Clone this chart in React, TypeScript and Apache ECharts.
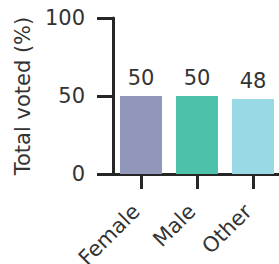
import React, { useEffect, useRef } from "react";
import * as echarts from "echarts";

const categories = ["Female", "Male", "Other"];
const values = [50, 50, 48];
const barColors = ["#9197bb", "#4cc2aa", "#99d9e6"];
const yTicks = [0, 50, 100];

export default function App() {
  const ref = useRef<HTMLDivElement>(null);
  useEffect(() => {
    if (!ref.current) return;
    const chart = echarts.init(ref.current, null, { renderer: "svg" });
    const font = "DejaVu Sans";
    const dark = "#262626";
    chart.setOption({
      animation: false,
      grid: {
        left: 113,
        top: 18,
        width: 168,
        height: 156,
        containLabel: false,
        outerBoundsMode: "none",
      },
      xAxis: {
        type: "category",
        data: categories,
        axisLine: { show: true, onZero: false, lineStyle: { color: dark, width: 3 } },
        axisTick: {
          show: true,
          interval: 0,
          alignWithLabel: true,
          length: 15,
          lineStyle: { color: dark, width: 3 },
        },
        axisLabel: {
          rotate: 45,
          interval: 0,
          margin: 29,
          padding: [0, 7, 0, 0],
          fontSize: 21,
          fontFamily: font,
          color: "#333333",
        },
      },
      yAxis: {
        type: "value",
        min: yTicks[0],
        max: yTicks[yTicks.length - 1],
        interval: 50,
        splitLine: { show: false },
        axisLine: { show: true, lineStyle: { color: dark, width: 3 } },
        axisTick: { show: true, length: 16, lineStyle: { color: dark, width: 3 } },
        axisLabel: { margin: 28, fontSize: 21, fontFamily: font, color: "#333333" },
        name: "Total voted (%)",
        nameLocation: "middle",
        nameGap: 80,
        nameTextStyle: { fontSize: 21, fontFamily: font, color: "#333333" },
      },
      series: [
        {
          type: "bar",
          data: values.map((v, i) => ({ value: v, itemStyle: { color: barColors[i] } })),
          barWidth: 42,
          label: {
            show: true,
            position: "top",
            distance: 8,
            fontSize: 21,
            fontFamily: font,
            color: "#333333",
          },
        },
      ],
    });
    return () => chart.dispose();
  }, []);
  return (
    <div
      ref={ref}
      style={{ position: "fixed", left: 0, top: 0, width: 279, height: 264, background: "#fff" }}
    />
  );
}
